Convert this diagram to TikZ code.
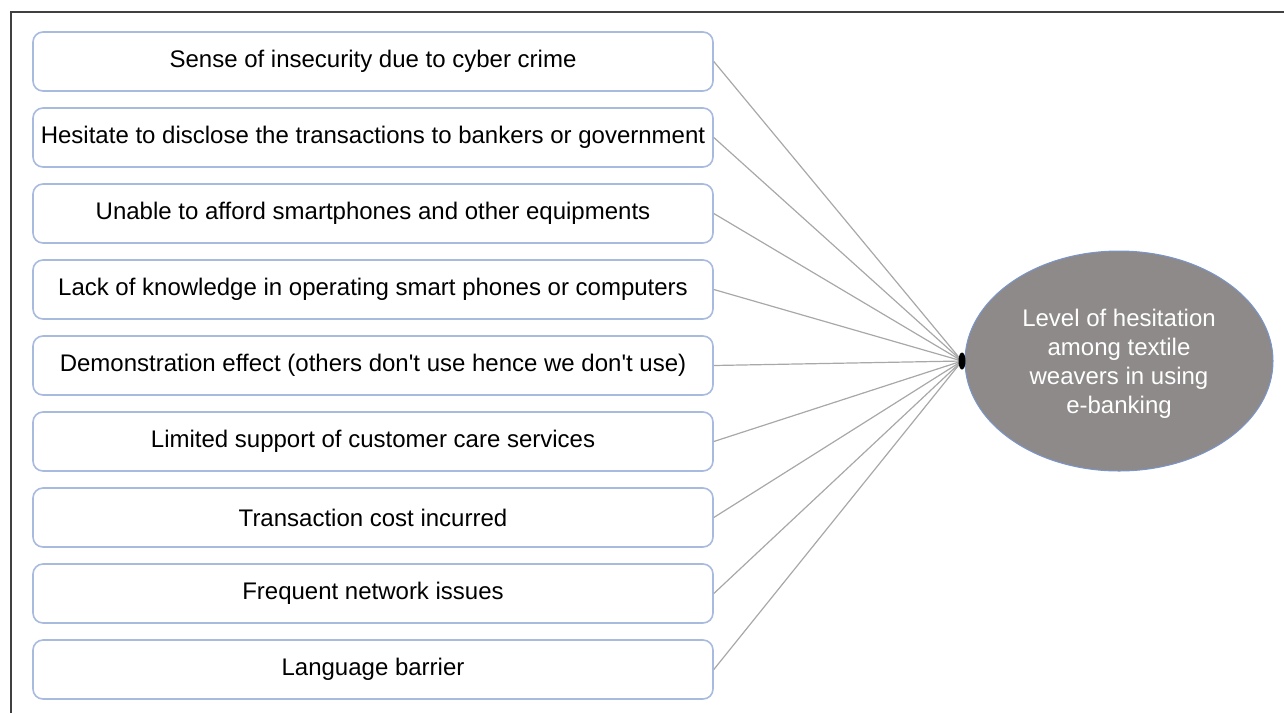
\documentclass[tikz,border=0pt]{standalone}
\usepackage{fontspec}
\setmainfont{Liberation Sans}
\usetikzlibrary{shapes.geometric}
\definecolor{boxblue}{HTML}{A8BBDF}
\definecolor{linkgray}{HTML}{A8A8A8}
\definecolor{ovalgray}{HTML}{8E8A89}
\definecolor{ovalrim}{HTML}{7A95CC}
\tikzstyle{every node}=[font=\fontsize{12}{14.5}\selectfont]
\tikzstyle{factor}=[draw=boxblue,line width=0.8pt,rounded corners=5pt,
  minimum width=340pt,minimum height=29.5pt,inner sep=0pt,align=center]
\tikzstyle{link}=[draw=linkgray,line width=0.6pt]

\begin{document}
\begin{tikzpicture}[x=0.5pt,y=-0.5pt]
\useasboundingbox (0,0) rectangle (1284,713);
%рамка
\draw[line width=1pt,black!75] (11,713) -- (11,12) -- (1284,12);
%факторы
\foreach \t [count=\i] in {Sense of insecurity due to cyber crime,
  Hesitate to disclose the transactions to bankers or government,
  Unable to afford smartphones and other equipments,
  Lack of knowledge in operating smart phones or computers,
  Demonstration effect (others don\textquotesingle t use hence we don\textquotesingle t use),
  Limited support of customer care services,
  Transaction cost incurred,
  Frequent network issues,
  Language barrier}
  \node[factor] (b\i) at (373,{61.5+76*(\i-1)}) {\t};
%итог
\coordinate (hub) at (962,361);
\node[ellipse,fill=ovalgray,draw=ovalrim,line width=0.5pt,minimum width=154pt,
  minimum height=110pt,inner sep=0pt] (level) at (1119,361) {};
\node[text=white,align=center] (levtext) at (1119,364)
  {Level of hesitation\\among textile\\weavers in using\\e-banking};
\foreach \i in {1,...,9}
  \draw[link] (b\i.east) -- (hub);
\node[ellipse,fill=black,minimum width=3.5pt,minimum height=8.5pt,inner sep=0pt] (dot) at (hub) {};
\end{tikzpicture}
\end{document}
